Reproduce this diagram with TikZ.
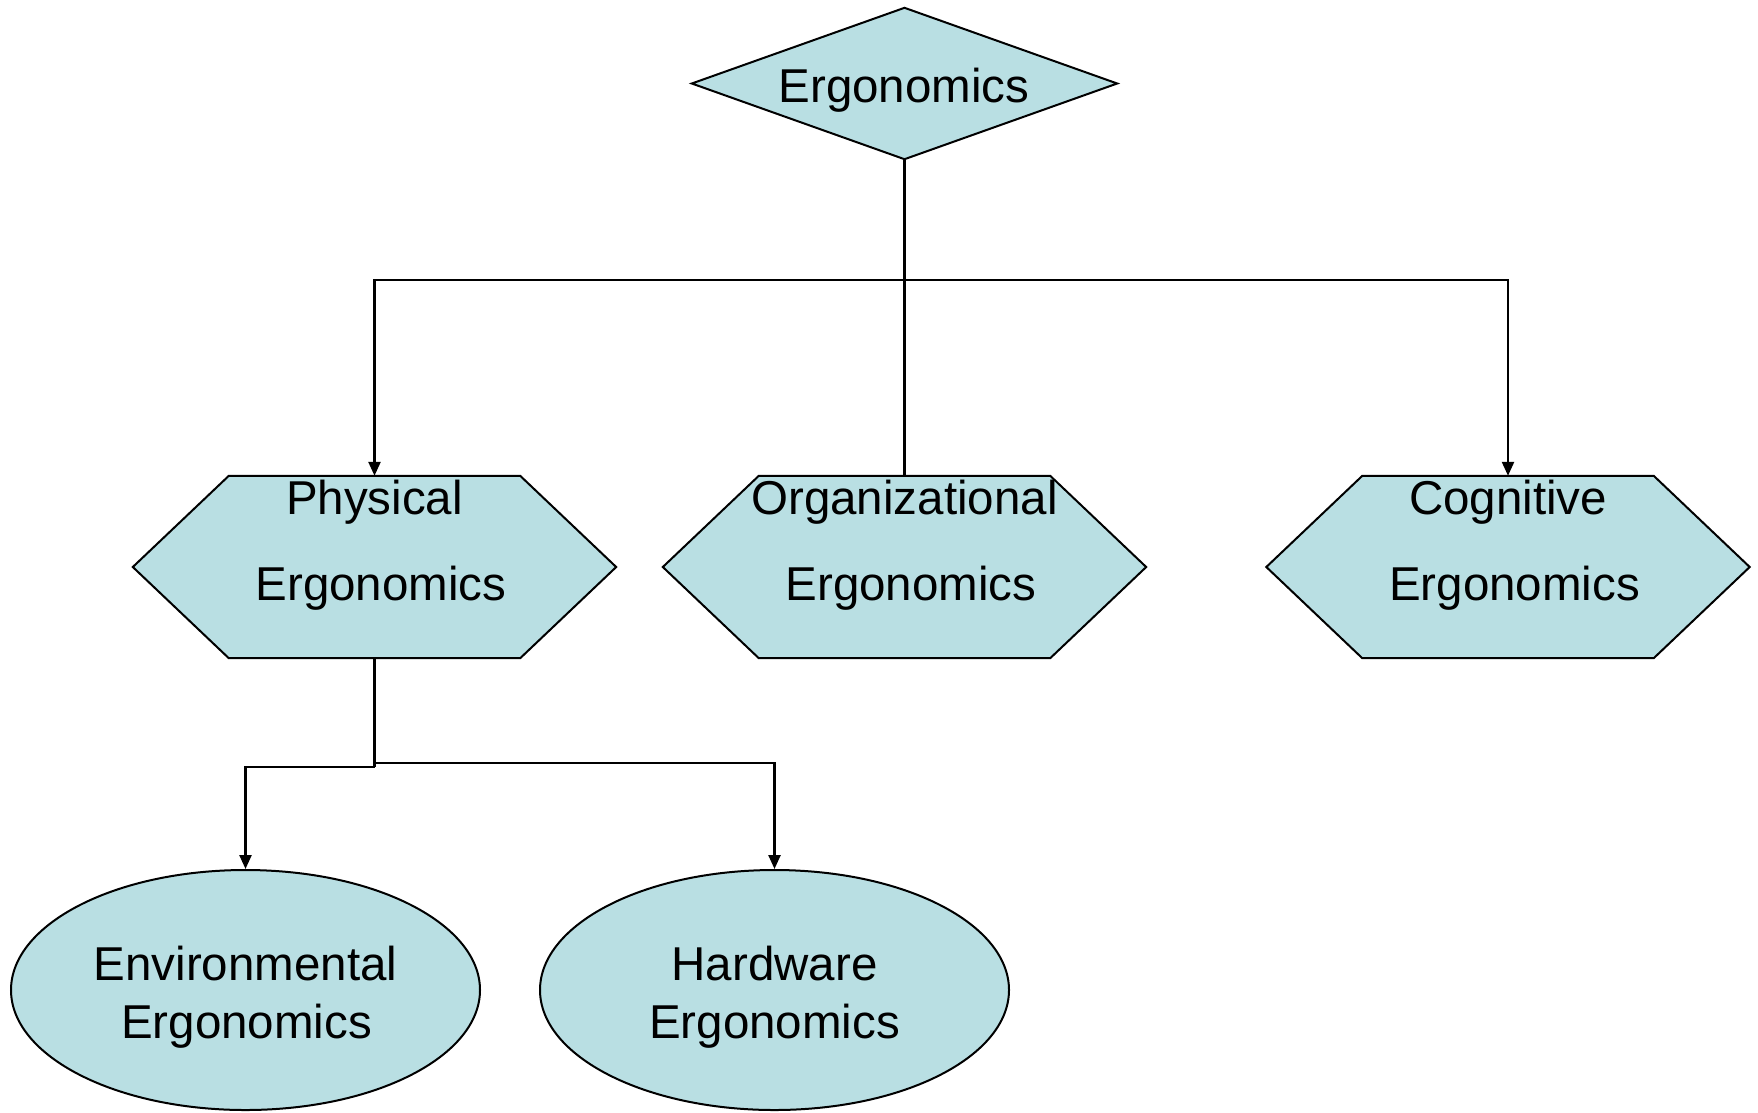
\documentclass[tikz,border=0pt]{standalone}
\usepackage{fontspec}
\setmainfont{Liberation Sans}
\usetikzlibrary{arrows.meta,shapes.geometric,calc}
\definecolor{boxfill}{HTML}{B9DFE3}
\begin{document}
\begin{tikzpicture}[x=1pt,y=-1pt,
  shapeline/.style={draw=black, line width=2pt, fill=boxfill, line join=miter},
  conn/.style={draw=black, line width=2.4pt},
  arr/.style={conn, -{Triangle[length=14pt,width=12pt]}},
  lbl/.style={font=\fontsize{47.5}{47.5}\selectfont, inner sep=0pt, anchor=base},
  frame/.style={rectangle, draw=none, inner sep=0pt},
  hexframe/.style={frame, minimum width=291pt, minimum height=182pt},
  ell/.style={ellipse, shapeline, inner sep=0pt, minimum width=469pt, minimum height=240pt},
]
\useasboundingbox (0,0) rectangle (1758,1112);

% diamond
\node[frame, minimum width=425pt, minimum height=151pt] (ergo) at (904.5,83.5) {};
\path[shapeline] (ergo.west) -- (ergo.north) -- (ergo.east) -- (ergo.south) -- cycle;

% hexagons
\node[hexframe] (phys) at (374.5,567) {};
\node[hexframe] (org) at (904.5,567) {};
\node[hexframe] (cog) at (1508,567) {};
\foreach \n in {phys,org,cog}{
  \path[shapeline] (\n.north west) -- (\n.north east) -- ($(\n.east)+(96,0)$)
    -- (\n.south east) -- (\n.south west) -- ($(\n.west)+(-96,0)$) -- cycle;
}

% ellipses
\node[ell] (env) at (245.5,990) {};
\node[ell] (hard) at (774.5,990) {};

% connectors
\coordinate (j1) at ($(ergo.south)+(0,121)$);
\draw[conn] (ergo.south) -- (org.north);
\draw[arr] (j1) -| (phys.north);
\draw[arr] (j1) -| (cog.north);
\coordinate (j2) at ($(phys.south)+(0,109)$);
\coordinate (j3) at ($(phys.south)+(0,105)$);
\draw[conn] (phys.south) -- (j2);
\draw[arr] (j2) -| (env.north);
\draw[arr] (j3) -| (hard.north);

% texts
\node[lbl] (ergoT) at (904,102) {Ergonomics};
\node[lbl] (physA) at (374.5,514) {Physical};
\node[lbl] (physB) at (381,600) {Ergonomics};
\node[lbl] (orgA) at (904.5,514) {Organizational};
\node[lbl] (orgB) at (911,600) {Ergonomics};
\node[lbl] (cogA) at (1508,514) {Cognitive};
\node[lbl] (cogB) at (1514.5,600) {Ergonomics};
\node[lbl] (envA) at (245.5,980) {Environmental};
\node[lbl] (envB) at (246.5,1038) {Ergonomics};
\node[lbl] (hardA) at (774.5,980) {Hardware};
\node[lbl] (hardB) at (774.5,1038) {Ergonomics};
\end{tikzpicture}
\end{document}
